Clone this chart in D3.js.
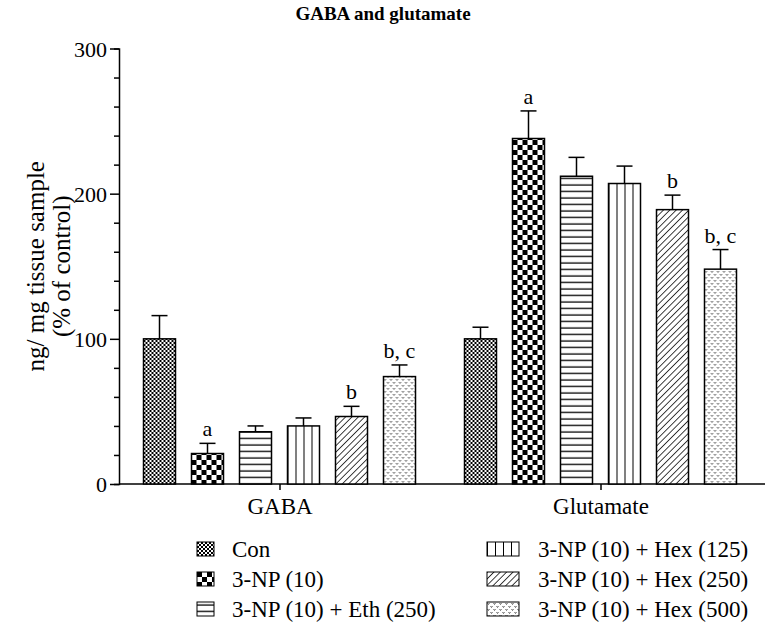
<!DOCTYPE html>
<html><head><meta charset="utf-8">
<script src="https://cdn.jsdelivr.net/npm/d3@7"></script>
<style>
html,body{margin:0;padding:0;background:#fff;}
svg{display:block;}
svg text{font-family:"Liberation Serif","Times New Roman",serif;}
</style></head>
<body><svg id="chart" width="766" height="636"></svg>
<script>
const groups = ["GABA", "Glutamate"];
const treatments = ["Con", "3-NP (10)", "3-NP (10) + Eth (250)", "3-NP (10) + Hex (125)", "3-NP (10) + Hex (250)", "3-NP (10) + Hex (500)"];
const gabaMeans = [100, 21, 36, 40, 46.5, 74];
const gabaSEM = [16, 7, 4, 5.5, 7, 8];
const gabaSig = ["", "a", "", "", "b", "b, c"];
const gluMeans = [100, 238, 212, 207, 189, 148];
const gluSEM = [8, 19, 13, 12, 10, 13.5];
const gluSig = ["", "a", "", "", "b", "b, c"];
const yTicks = [0, 100, 200, 300];
const patternIds = ["pCon", "pNP", "pEth", "pH125", "pH250", "pH500"];

const svg = d3.select("#chart");
const y = d3.scaleLinear().domain([0, 300]).range([484, 48.5]);
const x0 = d3.scalePoint().domain(groups).range([119, 761]).padding(0.5);
const x1 = d3.scaleBand().domain(treatments).range([-136, 136]).paddingInner(1/3).paddingOuter(0);

// patterns
const defs = svg.append("defs");
let p = defs.append("pattern").attr("id","pCon").attr("patternUnits","userSpaceOnUse").attr("width",4).attr("height",4);
p.append("rect").attr("width",4).attr("height",4).attr("fill","#fff");
p.append("rect").attr("width",2).attr("height",2).attr("fill","#000");
p.append("rect").attr("x",2).attr("y",2).attr("width",2).attr("height",2).attr("fill","#000");
p = defs.append("pattern").attr("id","pNP").attr("patternUnits","userSpaceOnUse").attr("width",10).attr("height",10);
p.append("rect").attr("width",10).attr("height",10).attr("fill","#fff");
p.append("rect").attr("x",0).attr("width",5).attr("height",5).attr("fill","#000");
p.append("rect").attr("x",5).attr("y",5).attr("width",5).attr("height",5).attr("fill","#000");
p = defs.append("pattern").attr("id","pEth").attr("patternUnits","userSpaceOnUse").attr("width",10).attr("height",6.5);
p.append("rect").attr("width",10).attr("height",6.5).attr("fill","#fff");
p.append("line").attr("x1",0).attr("x2",10).attr("y1",3).attr("y2",3).attr("stroke","#000").attr("stroke-width",1.3);
p = defs.append("pattern").attr("id","pH125").attr("patternUnits","userSpaceOnUse").attr("width",8).attr("height",10);
p.append("rect").attr("width",8).attr("height",10).attr("fill","#fff");
p.append("line").attr("x1",0).attr("x2",0).attr("y1",0).attr("y2",10).attr("stroke","#000").attr("stroke-width",2);
p = defs.append("pattern").attr("id","pH250").attr("patternUnits","userSpaceOnUse").attr("width",4.5).attr("height",4.5).attr("patternTransform","rotate(45)");
p.append("rect").attr("width",4.5).attr("height",4.5).attr("fill","#fff");
p.append("line").attr("x1",0).attr("x2",0).attr("y1",0).attr("y2",4.5).attr("stroke","#000").attr("stroke-width",1.5);
p = defs.append("pattern").attr("id","pH500").attr("patternUnits","userSpaceOnUse").attr("width",6).attr("height",6);
p.append("rect").attr("width",6).attr("height",6).attr("fill","#fff");
p.append("path").attr("d","M0.5,1 L1.5,2.5 L2.5,1 M3.5,4 L4.5,5.5 L5.5,4").attr("stroke","#555").attr("stroke-width",0.9).attr("fill","none");

// title
svg.append("text").attr("x",383).attr("y",20).attr("text-anchor","middle")
  .attr("font-weight","bold").attr("font-size",19).text("GABA and glutamate");

// y axis
const yAxis = svg.append("g").attr("transform",`translate(${x0.range()[0]},0)`)
  .call(d3.axisLeft(y).tickValues(d3.range(0,301,20)).tickSize(5).tickFormat(""));
yAxis.attr("font-family", null);
yAxis.selectAll(".tick line").filter(d=>yTicks.includes(d)).attr("x2",-9);
yAxis.selectAll(".tick").filter(d=>yTicks.includes(d)).append("text")
  .attr("x",-12).attr("dy","0.35em").attr("fill","#000").attr("font-size",22)
  .attr("text-anchor","end").text(d=>d);
yAxis.select(".domain").attr("stroke-width",1.5);
yAxis.selectAll(".tick line").attr("stroke-width",1.5);

// y label
const yl = svg.append("text").attr("transform",`translate(44,${(y.range()[0]+y.range()[1])/2}) rotate(-90)`)
  .attr("text-anchor","middle").attr("font-size",25);
yl.append("tspan").attr("x",0).attr("dy",0).text("ng/ mg tissue sample");
yl.append("tspan").attr("x",0).attr("dy",26).text("(% of control)");

// x axis
const xAxis = svg.append("g").attr("transform",`translate(0,${y(0)})`)
  .call(d3.axisBottom(x0).tickSize(6).tickSizeOuter(0).tickFormat(""));
xAxis.attr("font-family", null);
xAxis.select(".domain").attr("d",`M${x0.range()[0]},0H${x0.range()[1]+4}`).attr("stroke-width",1.5);
xAxis.selectAll(".tick line").attr("stroke-width",1.5);
xAxis.selectAll(".tick").append("text").attr("y",30).attr("fill","#000")
  .attr("font-size",23).attr("text-anchor","middle").text(d=>d);

// bars
const data = [
  {g:"GABA", means:gabaMeans, sem:gabaSEM, sig:gabaSig},
  {g:"Glutamate", means:gluMeans, sem:gluSEM, sig:gluSig}
];
data.forEach(gd=>{
  const gg = svg.append("g").attr("transform",`translate(${x0(gd.g)},0)`);
  treatments.forEach((t,i)=>{
    const bx = x1(t);
    const bg = gg.append("g").attr("transform",`translate(${bx},0)`);
    bg.append("rect").attr("x",0).attr("y",y(gd.means[i])).attr("width",x1.bandwidth())
      .attr("height",y(0)-y(gd.means[i])).attr("fill",`url(#${patternIds[i]})`)
      .attr("stroke","#000").attr("stroke-width",1.5);
    const cx = x1.bandwidth()/2;
    const top = y(gd.means[i]+gd.sem[i]);
    bg.append("line").attr("x1",cx).attr("x2",cx).attr("y1",y(gd.means[i])).attr("y2",top)
      .attr("stroke","#000").attr("stroke-width",1.5);
    bg.append("line").attr("x1",cx-8).attr("x2",cx+8).attr("y1",top).attr("y2",top)
      .attr("stroke","#000").attr("stroke-width",1.5);
    if (gd.sig[i]) bg.append("text").attr("x",cx).attr("y",top-7).attr("text-anchor","middle")
      .attr("font-size",22).text(gd.sig[i]);
  });
});

// legend
const legend = svg.append("g");
treatments.forEach((t,i)=>{
  const col = Math.floor(i/3), row = i%3;
  const lx = col===0 ? 197 : 487, ly = 549 + row*30;
  const lg = legend.append("g").attr("transform",`translate(${lx},${ly-7})`);
  lg.append("rect").attr("width",col===0?17:32).attr("height",14)
    .attr("fill",`url(#${patternIds[i]})`).attr("stroke","#000").attr("stroke-width",1);
  legend.append("text").attr("x",col===0?232:538).attr("y",ly).attr("dy","0.35em")
    .attr("font-size",23).text(t);
});
</script></body></html>
